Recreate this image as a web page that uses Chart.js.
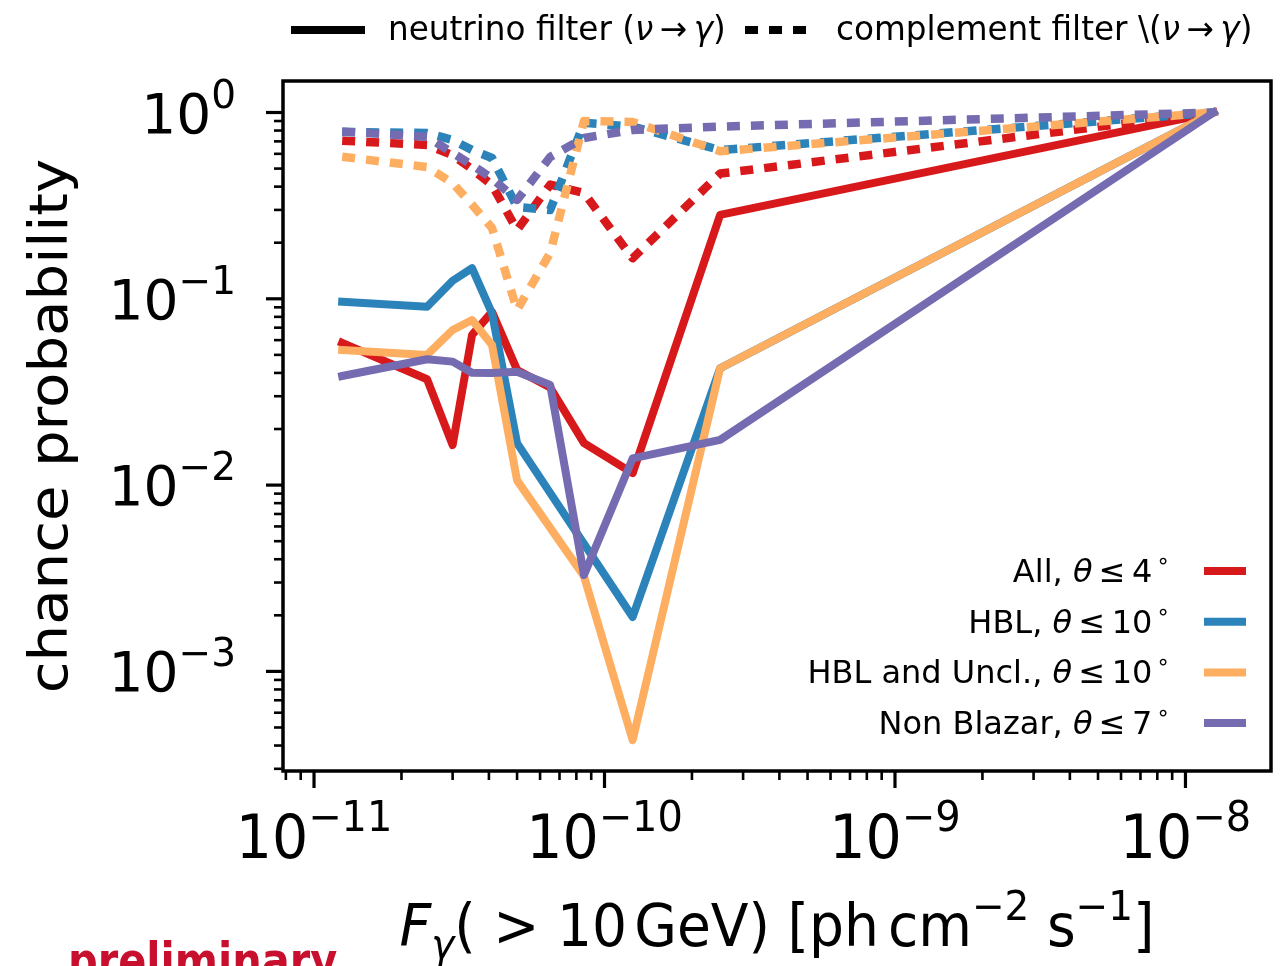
<!DOCTYPE html>
<html>
<head>
<meta charset="utf-8">
<script src="https://cdn.jsdelivr.net/npm/chart.js@4.4.1/dist/chart.umd.min.js"></script>
<style>
body { margin: 0; background: #fff; }
canvas { display: block; }
</style>
</head>
<body>
<canvas id="c" width="1283" height="966"></canvas>
<script>
// flux thresholds F(>10 GeV) in ph cm^-2 s^-1
var flux = [1.25e-11, 2.45e-11, 3e-11, 3.5e-11, 4.1e-11, 5e-11, 6.5e-11, 8.5e-11, 1.25e-10, 2.5e-10, 1.25e-8]

// neutrino filter (solid)
var allNu = [0.058, 0.037, 0.0164, 0.064, 0.085, 0.0415, 0.0334, 0.0168, 0.0116, 0.282, 1.0]
var hblNu = [0.0965, 0.0907, 0.125, 0.146, 0.0836, 0.0168, null, null, 0.00196, 0.0424, 1.0]
var uncNu = [0.0531, 0.050, 0.068, 0.0769, 0.0565, 0.0106, null, 0.00324, 0.000428, 0.0424, 1.0]
var nonNu = [0.0385, 0.0474, 0.046, 0.0401, 0.040, 0.0406, 0.0345, 0.00329, 0.0139, 0.0175, 1.0]

// complement filter (dotted)
var allC = [0.706, 0.669, 0.59, 0.497, 0.408, 0.234, 0.41, 0.37, 0.165, 0.47, 1.0]
var hblC = [0.787, 0.776, 0.712, 0.629, 0.57, 0.311, 0.30, 0.88, 0.84, 0.629, 1.0]
var uncC = [0.579, 0.51, 0.418, 0.32, 0.24, 0.087, 0.176, 0.90, 0.89, 0.62, 1.0]
var nonC = [0.79, 0.74, 0.606, 0.523, 0.443, 0.339, 0.577, 0.73, 0.806, 0.84, 1.0]

var samples = ['All, θ\u2009≤\u20094', 'HBL, θ\u2009≤\u200910', 'HBL and Uncl., θ\u2009≤\u200910', 'Non Blazar, θ\u2009≤\u20097']
var colors = ['#d7191c', '#2b83ba', '#fdae61', '#756bb1']
var xTicks = [1e-11, 1e-10, 1e-9, 1e-8]
var xTickExp = ['−11', '−10', '−9', '−8']
var yTicks = [1, 0.1, 0.01, 0.001]
var yTickExp = ['0', '−1', '−2', '−3']

var FONT = '"DejaVu Sans"'

function pts(ys) {
    var out = []
    for (var i = 0; i < flux.length; i++) {
        if (ys[i] !== null) out.push({x: flux[i], y: ys[i]})
    }
    return out
}

var solid = [allNu, hblNu, uncNu, nonNu]
var dotted = [allC, hblC, uncC, nonC]
var datasets = []
for (var i = 0; i < 4; i++) {
    datasets.push({
        label: samples[i],
        data: pts(solid[i]),
        borderColor: colors[i],
        borderWidth: 8,
        borderCapStyle: 'square',
        borderJoinStyle: 'round',
        order: 20 - i * 2,
        pointRadius: 0,
        fill: false,
        tension: 0
    })
    datasets.push({
        label: samples[i] + ' complement',
        data: pts(dotted[i]),
        borderColor: colors[i],
        borderWidth: 8.5,
        borderDash: [13, 11],
        borderCapStyle: 'butt',
        borderJoinStyle: 'round',
        order: 19 - i * 2,
        pointRadius: 0,
        fill: false,
        tension: 0
    })
}

// parts: [text, size, dy, italic]
function drawParts(ctx, parts, x, y, align, sx) {
    var w = 0
    parts.forEach(function (p) {
        ctx.font = (p[3] ? 'italic ' : '') + p[1] + 'px ' + FONT
        p.w = ctx.measureText(p[0]).width
        w += p.w
    })
    var start = x
    if (align == 'right') start = x - w * sx
    if (align == 'center') start = x - w * sx / 2
    ctx.save()
    ctx.translate(start, y)
    ctx.scale(sx, 1)
    ctx.textAlign = 'left'
    ctx.textBaseline = 'alphabetic'
    var cx = 0
    parts.forEach(function (p) {
        ctx.font = (p[3] ? 'italic ' : '') + p[1] + 'px ' + FONT
        ctx.fillText(p[0], cx, p[2] || 0)
        cx += p.w
    })
    ctx.restore()
}

var axesPlugin = {
    id: 'mplAxes',
    afterDraw: function (chart) {
        var ctx = chart.ctx
        var a = chart.chartArea
        var xs = chart.scales.x, ys = chart.scales.y
        ctx.save()
        ctx.fillStyle = '#000'
        ctx.strokeStyle = '#000'

        // ticks
        for (var n = -12; n <= -7; n++) {
            for (var k = 1; k <= 9; k++) {
                var v = k * Math.pow(10, n)
                if (v < xs.min || v > xs.max) continue
                var px = xs.getPixelForValue(v)
                var len = k == 1 ? 17 : 9
                ctx.lineWidth = k == 1 ? 3.2 : 2.6
                ctx.beginPath(); ctx.moveTo(px, a.bottom); ctx.lineTo(px, a.bottom + len); ctx.stroke()
            }
        }
        for (var n = -4; n <= 0; n++) {
            for (var k = 1; k <= 9; k++) {
                var v = k * Math.pow(10, n)
                if (v < ys.min || v > ys.max) continue
                var py = ys.getPixelForValue(v)
                var len = k == 1 ? 17 : 9
                ctx.lineWidth = k == 1 ? 3.2 : 2.6
                ctx.beginPath(); ctx.moveTo(a.left, py); ctx.lineTo(a.left - len, py); ctx.stroke()
            }
        }

        // frame
        ctx.lineWidth = 3.5
        ctx.strokeRect(a.left, a.top, a.right - a.left, a.bottom - a.top)

        // tick labels
        for (var i = 0; i < xTicks.length; i++) {
            var px = xs.getPixelForValue(xTicks[i])
            drawParts(ctx, [['10', 60], [xTickExp[i], 42, -27]], px, 858, 'center', 0.95)
        }
        for (var i = 0; i < yTicks.length; i++) {
            var py = ys.getPixelForValue(yTicks[i])
            drawParts(ctx, [['10', 55], [yTickExp[i], 39, -25]], 236, py + 20, 'right', 1.0)
        }

        // axis labels
        ctx.save()
        ctx.translate(67, (a.top + a.bottom) / 2)
        ctx.scale(1, 1.07)
        ctx.rotate(-Math.PI / 2)
        ctx.textAlign = 'center'
        ctx.font = '54px ' + FONT
        ctx.fillText('chance probability', 0, 0)
        ctx.restore()

        drawParts(ctx, [
            ['F', 58, 0, true], ['γ', 41, 12, true], ['( > 10', 58], [' ', 24], ['GeV) [ph', 58], [' ', 30],
            ['cm', 58], ['−2', 41, -26], [' s', 58], ['−1', 41, -26], [']', 58]
        ], (a.left + a.right) / 2, 946, 'center', 0.95)

        // preliminary stamp
        ctx.fillStyle = '#c8102e'
        ctx.font = 'bold 50px ' + FONT
        ctx.save()
        ctx.translate(68, 978)
        ctx.scale(0.83, 1)
        ctx.textAlign = 'left'
        ctx.fillText('preliminary', 0, 0)
        ctx.restore()

        // top legend
        ctx.fillStyle = '#000'
        ctx.lineWidth = 8
        ctx.beginPath(); ctx.moveTo(291, 30); ctx.lineTo(365, 30); ctx.stroke()
        drawParts(ctx, [['neutrino filter (', 33], ['ν', 33, 0, true], ['\u2009→\u2009', 33], ['γ', 33, 0, true], [')', 33]], 388, 40, 'left', 0.99)
        ctx.setLineDash([13, 11])
        ctx.beginPath(); ctx.moveTo(745, 30); ctx.lineTo(806, 30); ctx.stroke()
        ctx.setLineDash([])
        drawParts(ctx, [['complement filter \\(', 33], ['ν', 33, 0, true], ['\u2009→\u2009', 33], ['γ', 33, 0, true], [')', 33]], 836, 40, 'left', 0.99)

        // sample legend (lower right)
        for (var i = 0; i < samples.length; i++) {
            var ly = 571 + i * 50.7
            var txt = samples[i].split('θ')
            drawParts(ctx, [[txt[0], 32], ['θ', 32, 0, true], [txt[1], 32], [' ', 12], ['∘', 22, -14]], 1170, ly + 11, 'right', 1.0)
            ctx.strokeStyle = colors[i]
            ctx.lineWidth = 8
            ctx.beginPath(); ctx.moveTo(1204, ly); ctx.lineTo(1246, ly); ctx.stroke()
        }
        ctx.restore()
    }
}

new Chart(document.getElementById('c'), {
    type: 'line',
    data: { datasets: datasets },
    options: {
        responsive: false,
        animation: false,
        devicePixelRatio: 1,
        layout: { padding: { left: 283, top: 81, right: 12, bottom: 195 } },
        plugins: { legend: { display: false }, tooltip: { enabled: false } },
        scales: {
            x: { type: 'logarithmic', display: false, min: 7.82e-12, max: 1.97e-8 },
            y: { type: 'logarithmic', display: false, min: 2.92e-4, max: 1.476 }
        }
    },
    plugins: [axesPlugin]
})
</script>
</body>
</html>
